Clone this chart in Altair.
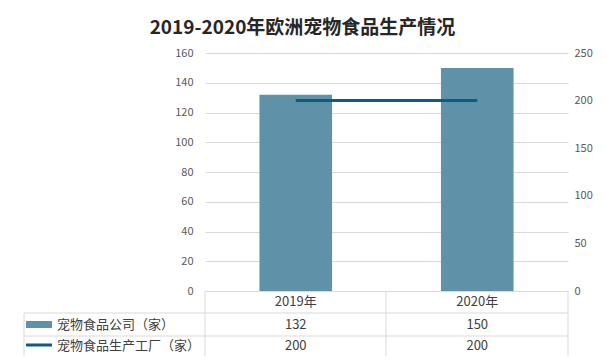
import altair as alt
import pandas as pd

years = ["2019年", "2020年"]
companies = [132, 150]
factories = [200, 200]
series_names = ["宠物食品公司（家）", "宠物食品生产工厂（家）"]
left_ticks = [0, 20, 40, 60, 80, 100, 120, 140, 160]
right_ticks = [0, 50, 100, 150, 200, 250]
title_text = "2019-2020年欧洲宠物食品生产情况"

df = pd.DataFrame({"year": years, "companies": companies, "factories": factories})

W, H = 363, 238
FONT = "Noto Sans CJK SC"
BAR = "#5f91a8"
LINE = "#0c5d7e"
GRID = "#d9d9d9"
TXT = "#404040"

xscale = alt.Scale(domain=years, paddingInner=0.6, paddingOuter=0.3)
x = alt.X("year:N", scale=xscale, axis=None, sort=years)

bars = alt.Chart(df).mark_bar(color=BAR).encode(
    x=x,
    y=alt.Y("companies:Q", scale=alt.Scale(domain=[0, 160], nice=False),
            axis=alt.Axis(values=left_ticks, title=None, domain=False, ticks=False,
                          labelPadding=12, grid=True, gridColor=GRID,
                          labelColor="#595959", labelFontSize=11, labelFont=FONT)),
)

line = alt.Chart(df).mark_line(color=LINE, strokeWidth=3).encode(
    x=x,
    y=alt.Y("factories:Q", scale=alt.Scale(domain=[0, 250], nice=False),
            axis=alt.Axis(orient="right", values=right_ticks, title=None, domain=False,
                          ticks=False, grid=False, labelPadding=6,
                          labelColor="#595959", labelFontSize=11, labelFont=FONT)),
)

def row_text(field, ypix, typ):
    return alt.Chart(df).mark_text(fontSize=13, font=FONT, color=TXT, baseline="middle").encode(
        x=x, y=alt.value(ypix - 53), text=alt.Text(f"{field}:{typ}")
    )

header = row_text("year", 302, "N")
row1 = row_text("companies", 325, "Q")
row2 = row_text("factories", 346, "Q")

names_df = pd.DataFrame({"name": series_names})
label1 = alt.Chart(names_df.iloc[[0]]).mark_text(fontSize=13, font=FONT, color=TXT, align="left", baseline="middle").encode(
    x=alt.value(57 - 205), y=alt.value(325 - 53), text="name:N")
label2 = alt.Chart(names_df.iloc[[1]]).mark_text(fontSize=13, font=FONT, color=TXT, align="left", baseline="middle").encode(
    x=alt.value(57 - 205), y=alt.value(346 - 53), text="name:N")

sw1 = alt.Chart(names_df.iloc[[0]]).mark_rect(color=BAR).encode(
    x=alt.value(26 - 205), x2=alt.value(52 - 205), y=alt.value(321 - 53), y2=alt.value(328 - 53))
sw2 = alt.Chart(names_df.iloc[[1]]).mark_rule(color=LINE, strokeWidth=3).encode(
    x=alt.value(26 - 205), x2=alt.value(52 - 205), y=alt.value(345 - 53))

def hrule(y, x1, x2):
    return alt.Chart(names_df.iloc[[0]]).mark_rule(color=GRID, strokeWidth=1).encode(
        x=alt.value(x1), x2=alt.value(x2), y=alt.value(y))

def vrule(xp, y1, y2):
    return alt.Chart(names_df.iloc[[0]]).mark_rule(color=GRID, strokeWidth=1).encode(
        x=alt.value(xp), y=alt.value(y1), y2=alt.value(y2))

rules = [
    hrule(313 - 53, 24 - 205, W),
    hrule(336 - 53, 24 - 205, W),
    hrule(357 - 53, 24 - 205, W),
    vrule(0, H, 357 - 53),
    vrule(181, H, 357 - 53),
    vrule(W, H, 357 - 53),
    vrule(24 - 205, 313 - 53, 357 - 53),
]

chart = alt.layer(
    *rules, bars, line, header, row1, row2, label1, label2, sw1, sw2
).resolve_scale(y="independent").properties(
    width=W, height=H,
    title=alt.TitleParams(title_text, fontSize=19, fontWeight="bold", font=FONT,
                          color="#262626", anchor="middle", dx=-84, offset=9),
    autosize=alt.AutoSizeParams(type="none"),
    padding={"left": 197, "top": 45, "right": 30, "bottom": 65},
).configure_view(stroke=None)

chart.save("out.html", embed_options={"renderer": "svg", "actions": False})
